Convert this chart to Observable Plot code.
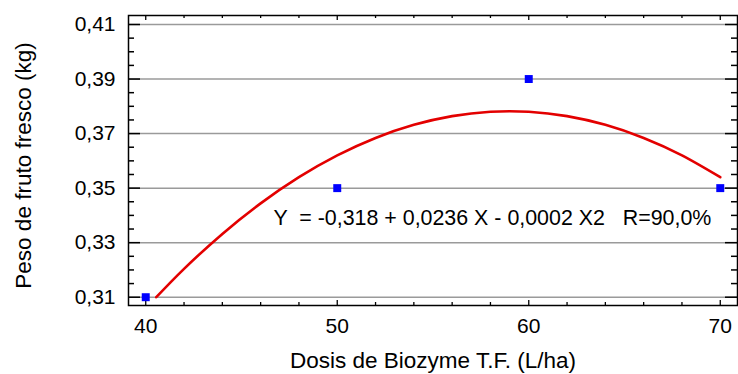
<!DOCTYPE html>
<html><head><meta charset="utf-8">
<script src="https://cdn.jsdelivr.net/npm/d3@7"></script>
<script src="https://cdn.jsdelivr.net/npm/@observablehq/plot@0.6"></script>
<style>
body{margin:0;background:#fff;}
svg text{white-space:pre;}
</style></head><body><div id="chart"></div>
<script>
// observed points
const dosis = [40, 50, 60, 70];
const peso = [0.31, 0.35, 0.39, 0.35];
// fitted curve
const curveX = [40.55, 42, 44, 46, 48, 50, 52, 54, 56, 58, 60, 62, 64, 66, 68, 70];
const curveY = [0.31, 0.3204, 0.3332, 0.3444, 0.354, 0.362, 0.3684, 0.3732, 0.3764, 0.378, 0.378, 0.3764, 0.3732, 0.3684, 0.362, 0.354];
// ticks
const xTicks = [40, 50, 60, 70];
const xMinor = [42, 44, 46, 48, 52, 54, 56, 58, 62, 64, 66, 68];
const yTicks = [0.31, 0.33, 0.35, 0.37, 0.39, 0.41];
const yMinor = [0.315, 0.32, 0.325, 0.335, 0.34, 0.345, 0.355, 0.36, 0.365, 0.375, 0.38, 0.385, 0.395, 0.40, 0.405];
// texts
const equation = "Y  = -0,318 + 0,0236 X - 0,0002 X2   R=90,0%";
const xLabel = "Dosis de Biozyme T.F. (L/ha)";
const yLabel = "Peso de fruto fresco (kg)";

const points = dosis.map((d, i) => ({x: d, y: peso[i]}));
const curve = curveX.map((d, i) => ({x: d, y: curveY[i]}));
const fmtY = d => d.toFixed(2).replace(".", ",");
const fs = 21, fsE = 21.4, fsT = 22.5;
const W = 738, H = 374, mL = 128, mR = 1, mT = 15, mB = 69;
const fw = W - mL - mR, fh = H - mT - mB;

const chart = Plot.plot({
  width: W, height: H,
  marginLeft: mL, marginRight: mR, marginTop: mT, marginBottom: mB,
  style: {fontFamily: "'Liberation Sans', Arial, sans-serif", fontSize: fs + "px", color: "black", background: "white"},
  x: {domain: [39.1, 70.9]},
  y: {domain: [0.30696, 0.4133]},
  marks: [
    Plot.gridY(yTicks, {stroke: "#9a9a9a", strokeOpacity: 1, strokeWidth: 1.5}),
    // inward ticks
    Plot.tickX(xTicks, {x: d => d, insetTop: fh - 5, stroke: "black", strokeWidth: 1.3}),
    Plot.tickX(xMinor, {x: d => d, insetTop: fh - 3, stroke: "black", strokeWidth: 1.3}),
    Plot.tickX(xTicks, {x: d => d, insetBottom: fh - 5, stroke: "black", strokeWidth: 1.3}),
    Plot.tickX(xMinor, {x: d => d, insetBottom: fh - 3, stroke: "black", strokeWidth: 1.3}),
    Plot.tickY(yTicks, {y: d => d, insetRight: fw - 12, stroke: "black", strokeWidth: 1.5}),
    Plot.tickY(yMinor, {y: d => d, insetRight: fw - 6, stroke: "black", strokeWidth: 1.5}),
    Plot.tickY(yTicks, {y: d => d, insetLeft: fw - 12, stroke: "black", strokeWidth: 1.5}),
    Plot.tickY(yMinor, {y: d => d, insetLeft: fw - 6, stroke: "black", strokeWidth: 1.5}),
    Plot.line(curve, {x: "x", y: "y", stroke: "#e30000", strokeWidth: 2.6, curve: "natural"}),
    Plot.dot(points, {x: "x", y: "y", symbol: "square", r: 4.5, fill: "#0000ff"}),
    Plot.text([equation], {frameAnchor: "top-left", lineAnchor: "middle", textAnchor: "start", dx: 145, dy: 203, fontSize: fsE, fill: "black"}),
    // tick labels
    Plot.axisX(xTicks, {anchor: "bottom", tickSize: 0, tickPadding: 13, tickFormat: d => String(d), label: null, fontSize: fs}),
    Plot.axisY(yTicks, {anchor: "left", tickSize: 0, tickPadding: 13, tickFormat: fmtY, label: null, fontSize: fs}),
    // axis titles
    Plot.text([xLabel], {frameAnchor: "bottom", textAnchor: "middle", lineAnchor: "middle", dy: 55, fontSize: fsT, fill: "black"}),
    Plot.text([yLabel], {frameAnchor: "left", textAnchor: "middle", lineAnchor: "middle", rotate: -90, dx: -105, dy: 5, fontSize: fsT, fill: "black"}),
    Plot.frame({stroke: "black", strokeWidth: 1.5})
  ]
});
document.getElementById("chart").appendChild(chart);
</script></body></html>
